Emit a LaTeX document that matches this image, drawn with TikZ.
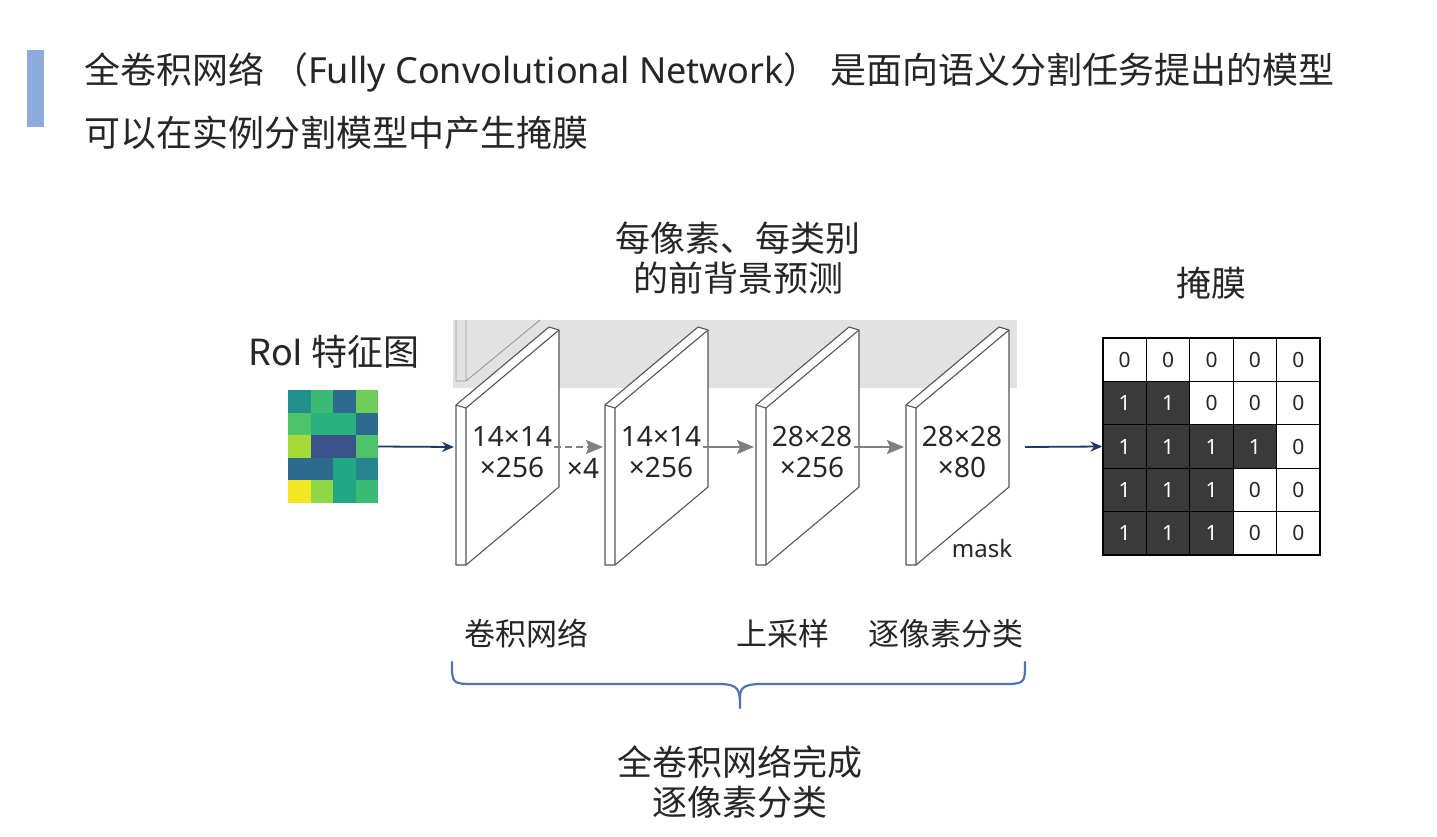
\documentclass[tikz,border=0pt]{standalone}
\usepackage{fontspec}
\setmainfont{Noto Sans CJK SC}
\newfontfamily\latinfont{Noto Sans}
\usetikzlibrary{arrows.meta}

\definecolor{barblue}{HTML}{8FAADC}
\definecolor{navy}{HTML}{1F3864}
\definecolor{braceblue}{HTML}{4F74B0}
\definecolor{cellgray}{HTML}{3A3A3A}
\definecolor{panelgray}{HTML}{E2E2E2}
\definecolor{textgray}{HTML}{262626}
\definecolor{edgegray}{HTML}{555555}
\definecolor{flowgray}{HTML}{808080}
% viridis-like feature map colours
\definecolor{vA}{HTML}{21908D}
\definecolor{vB}{HTML}{3BBB75}
\definecolor{vC}{HTML}{2E6A8E}
\definecolor{vD}{HTML}{6CCE59}
\definecolor{vE}{HTML}{4EC36B}
\definecolor{vF}{HTML}{2AB07F}
\definecolor{vG}{HTML}{A5DB36}
\definecolor{vH}{HTML}{3B528B}
\definecolor{vI}{HTML}{22A785}
\definecolor{vJ}{HTML}{25848E}
\definecolor{vK}{HTML}{F3E622}
\definecolor{vL}{HTML}{8FD744}

\begin{document}
\begin{tikzpicture}[x=1pt, y=-1pt,
  lbl/.style={text=textgray, inner sep=0pt, align=center,
              font=\fontsize{35}{40}\selectfont},
  small/.style={text=textgray, inner sep=0pt,
              font=\fontsize{31}{36}\selectfont},
  dimtext/.style={text=textgray, inner sep=0pt, align=center,
              font=\latinfont\fontsize{28}{31}\selectfont},
  layer/.style={draw=edgegray, line width=1.1pt, line join=round},
  cell/.style={draw=black, line width=1.3pt, minimum size=43.4pt, inner sep=0pt,
              font=\latinfont\fontsize{21}{24}\selectfont},
  m0/.style={fill=white, text=textgray},
  m1/.style={fill=cellgray, text=white},
  inflow/.style={-{Stealth[length=12pt, width=10pt]}, navy, line width=1.8pt},
  flow/.style={-{Stealth[length=17pt, width=14pt, inset=3pt]}, flowgray, line width=1.8pt}]
  \useasboundingbox (0,0) rectangle (1437,837);
  \fill[white] (0,0) rectangle (1437,837);

  % heading
  \fill[barblue] (27,50) rectangle (44,127);
  \node[anchor=west, inner sep=0pt, text=textgray, font=\fontsize{36}{40}\selectfont]
       (title) at (84,72) {全卷积网络 （{\latinfont\fontsize{36}{40}\selectfont Fully Convolutional Network}）\hspace{0.3em}是面向语义分割任务提出的模型};
  \node[anchor=west, inner sep=0pt, text=textgray, font=\fontsize{36}{40}\selectfont]
       (sub) at (84,133) {可以在实例分割模型中产生掩膜};

  % grey band behind the layers
  \fill[panelgray] (453,320) rectangle (1017,388);
  \draw[gray!80, line width=0.9pt] (456,320) -- (456,381) -- (466,381) -- (466,320)
        (466,381) -- (540,320);

  % RoI feature map
  \node[lbl, font=\fontsize{36}{40}\selectfont] (roilbl) at (334,352) {RoI 特征图};
  \node[minimum width=90pt, minimum height=113pt, inner sep=0pt] (roi) at (333,446.5) {};
  \foreach \row [count=\r] in {{vA,vB,vC,vD},{vE,vF,vF,vC},{vG,vH,vH,vE},
                               {vC,vC,vI,vJ},{vK,vL,vI,vB}}
    \foreach \col [count=\c] in \row
      \fill[\col] ({288+22.5*(\c-1)},{390+22.6*(\r-1)}) rectangle ++(22.5,22.6);

  % layers
  \foreach \x/\name/\txt in {456/c1/{14×14\\×256}, 605/c2/{14×14\\×256},
                             756/c3/{28×28\\×256}, 906/c4/{28×28\\×80}} {
    \filldraw[layer, fill=white] (\x,405) -- (\x+93,327) -- (\x+103,330)
         -- (\x+103,487) -- (\x+10,565) -- (\x,565) -- cycle;
    \draw[layer] (\x,405) -- (\x+10,408) -- (\x+103,330)
         (\x+10,408) -- (\x+10,565);
    \coordinate (\name-w) at (\x-2,447);
    \coordinate (\name-e) at (\x+98,447);
    \node[dimtext] (\name) at (\x+56,452) {\txt};
  }
  \node[dimtext] (rep) at (583,468) {×4};
  \node[dimtext, font=\latinfont\fontsize{24}{28}\selectfont] (masktxt) at (982,548) {mask};

  % connectors
  \draw[inflow] (roi.east) -- (c1-w);
  \draw[flow, dash pattern=on 7pt off 4pt] (c1-e) -- (c2-w);
  \draw[flow] (c2-e) -- (c3-w);
  \draw[flow] (c3-e) -- (c4-w);

  % mask grid
  \node[lbl] (masklbl) at (1211,283) {掩膜};
  \foreach \row [count=\r] in {{0,0,0,0,0},{1,1,0,0,0},{1,1,1,1,0},
                               {1,1,1,0,0},{1,1,1,0,0}}
    \foreach \v [count=\c] in \row
      \node[cell, m\v] (m\r\c) at ({1124.7+43.4*(\c-1)},{359.7+43.4*(\r-1)}) {\v};
  \coordinate (out) at (1025,447);
  \draw[inflow] (out) -- (m31.west);

  % top and bottom labels
  \node[lbl] (pred) at (738,258) {每像素、每类别\\的前背景预测};
  \node[small] (conv) at (526,634) {卷积网络};
  \node[small] (up) at (783,634) {上采样};
  \node[small] (cls) at (946,634) {逐像素分类};
  \draw[braceblue, line width=2.2pt, line cap=round]
       (452,662) .. controls (452,684) and (452,684) .. (476,684) -- (718,684)
       .. controls (740,684) and (740,690) .. (740,708);
  \draw[braceblue, line width=2.2pt, line cap=round]
       (1025,662) .. controls (1025,684) and (1025,684) .. (1001,684) -- (762,684)
       .. controls (740,684) and (740,690) .. (740,700);
  \node[lbl] (fcn) at (740,782) {全卷积网络完成\\逐像素分类};
\end{tikzpicture}
\end{document}
